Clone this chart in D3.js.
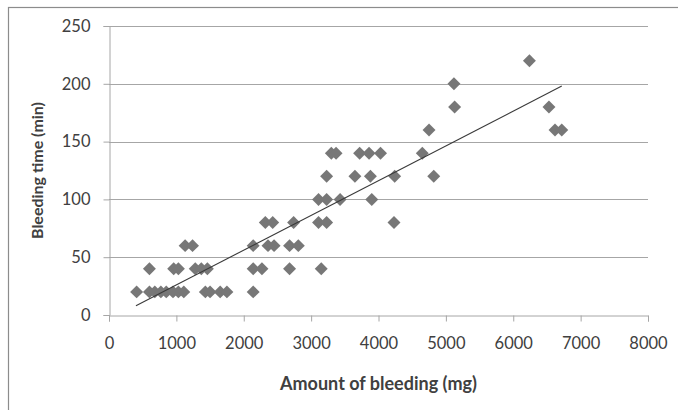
<!DOCTYPE html>
<html>
<head>
<meta charset="utf-8">
<script src="https://cdn.jsdelivr.net/npm/d3@7"></script>
<style>
  body { margin: 0; background: #fff; }
  svg { display: block; font-family: Lato, "Open Sans", sans-serif; }
</style>
</head>
<body>
<svg id="chart" width="678" height="410"></svg>
<script>
// amount of bleeding (mg) vs bleeding time (min)
const amount = [
  410, 600, 680, 770, 850, 950, 1030, 1110, 1430, 1500, 1650, 1750, 2140,
  600, 960, 1030, 1280, 1370, 1460, 2140, 2270, 2680, 3150,
  1130, 1240, 2140, 2360, 2450, 2680, 2810,
  2320, 2430, 2740, 3110, 3230, 4230,
  3110, 3230, 3430, 3900,
  3230, 3650, 3880, 4240, 4820,
  3300, 3370, 3720, 3860, 4030, 4650,
  4750, 6620, 6720,
  5130, 6530,
  5120,
  6240
];
const time = [
  20, 20, 20, 20, 20, 20, 20, 20, 20, 20, 20, 20, 20,
  40, 40, 40, 40, 40, 40, 40, 40, 40, 40,
  60, 60, 60, 60, 60, 60, 60,
  80, 80, 80, 80, 80, 80,
  100, 100, 100, 100,
  120, 120, 120, 120, 120,
  140, 140, 140, 140, 140, 140,
  160, 160, 160,
  180, 180,
  200,
  220
];
// linear trend line end points
const trendX = [400, 6720];
const trendY = [8, 198];

const xTicks = [0, 1000, 2000, 3000, 4000, 5000, 6000, 7000, 8000];
const yTicks = [0, 50, 100, 150, 200, 250];

const svg = d3.select("#chart");
const margin = { top: 26, right: 30, bottom: 95, left: 109 };
const width = 648 - margin.left;
const height = 315 - margin.top;

// outer frame
svg.append("rect")
  .attr("x", 8.5).attr("y", 7.5)
  .attr("width", 700).attr("height", 420)
  .attr("fill", "none").attr("stroke", "#8c8c8c").attr("stroke-width", 1.2);

const g = svg.append("g").attr("transform", `translate(${margin.left},${margin.top})`);

const x = d3.scaleLinear().domain([0, 8000]).range([0, width]);
const y = d3.scaleLinear().domain([0, 250]).range([height, 0]);

// gridlines
g.append("g")
  .selectAll("line")
  .data(yTicks.filter(d => d > 0))
  .enter()
  .append("line")
  .attr("x1", 0).attr("x2", width)
  .attr("y1", d => Math.round(y(d)) + 0.5).attr("y2", d => Math.round(y(d)) + 0.5)
  .attr("stroke", "#a6a6a6");

// y axis
const yAxis = g.append("g")
  .attr("transform", "translate(0.5,0)")
  .call(d3.axisLeft(y).tickValues(yTicks).tickSize(6).tickPadding(13).tickFormat(d3.format("d")));
// x axis
const xAxis = g.append("g")
  .attr("transform", `translate(0,${Math.round(height) + 0.5})`)
  .call(d3.axisBottom(x).tickValues(xTicks).tickSize(6).tickPadding(16).tickFormat(d3.format("d")));

[yAxis, xAxis].forEach(a => {
  a.select(".domain").attr("stroke", "#a6a6a6");
  a.selectAll(".tick line").attr("stroke", "#a6a6a6");
  a.selectAll(".tick text")
    .attr("fill", "#404040")
    .style("font-size", "16.5px")
    .style("font-family", "Lato, sans-serif");
});

// points
g.selectAll("path.pt")
  .data(amount.map((a, i) => ({ a: a, t: time[i] })))
  .enter()
  .append("path")
  .attr("class", "pt")
  .attr("d", d3.symbol().type(d3.symbolSquare).size(84))
  .attr("transform", d => `translate(${x(d.a)},${y(d.t)}) rotate(45)`)
  .attr("fill", "#777777");

// trend line
const line = d3.line().x(d => x(d[0])).y(d => y(d[1]));
g.append("path")
  .datum(trendX.map((v, i) => [v, trendY[i]]))
  .attr("fill", "none")
  .attr("stroke", "#3a3a3a")
  .attr("stroke-width", 1.1)
  .attr("d", line);

// axis titles
svg.append("text")
  .attr("x", margin.left + width / 2)
  .attr("y", 390)
  .attr("text-anchor", "middle")
  .attr("font-weight", "bold")
  .attr("font-size", 18)
  .attr("fill", "#404040")
  .text("Amount of bleeding (mg)");

svg.append("text")
  .attr("transform", `translate(43,${margin.top + height / 2}) rotate(-90)`)
  .attr("text-anchor", "middle")
  .attr("font-weight", "bold")
  .attr("font-size", 16)
  .attr("fill", "#404040")
  .text("Bleeding time (min)");
</script>
</body>
</html>
